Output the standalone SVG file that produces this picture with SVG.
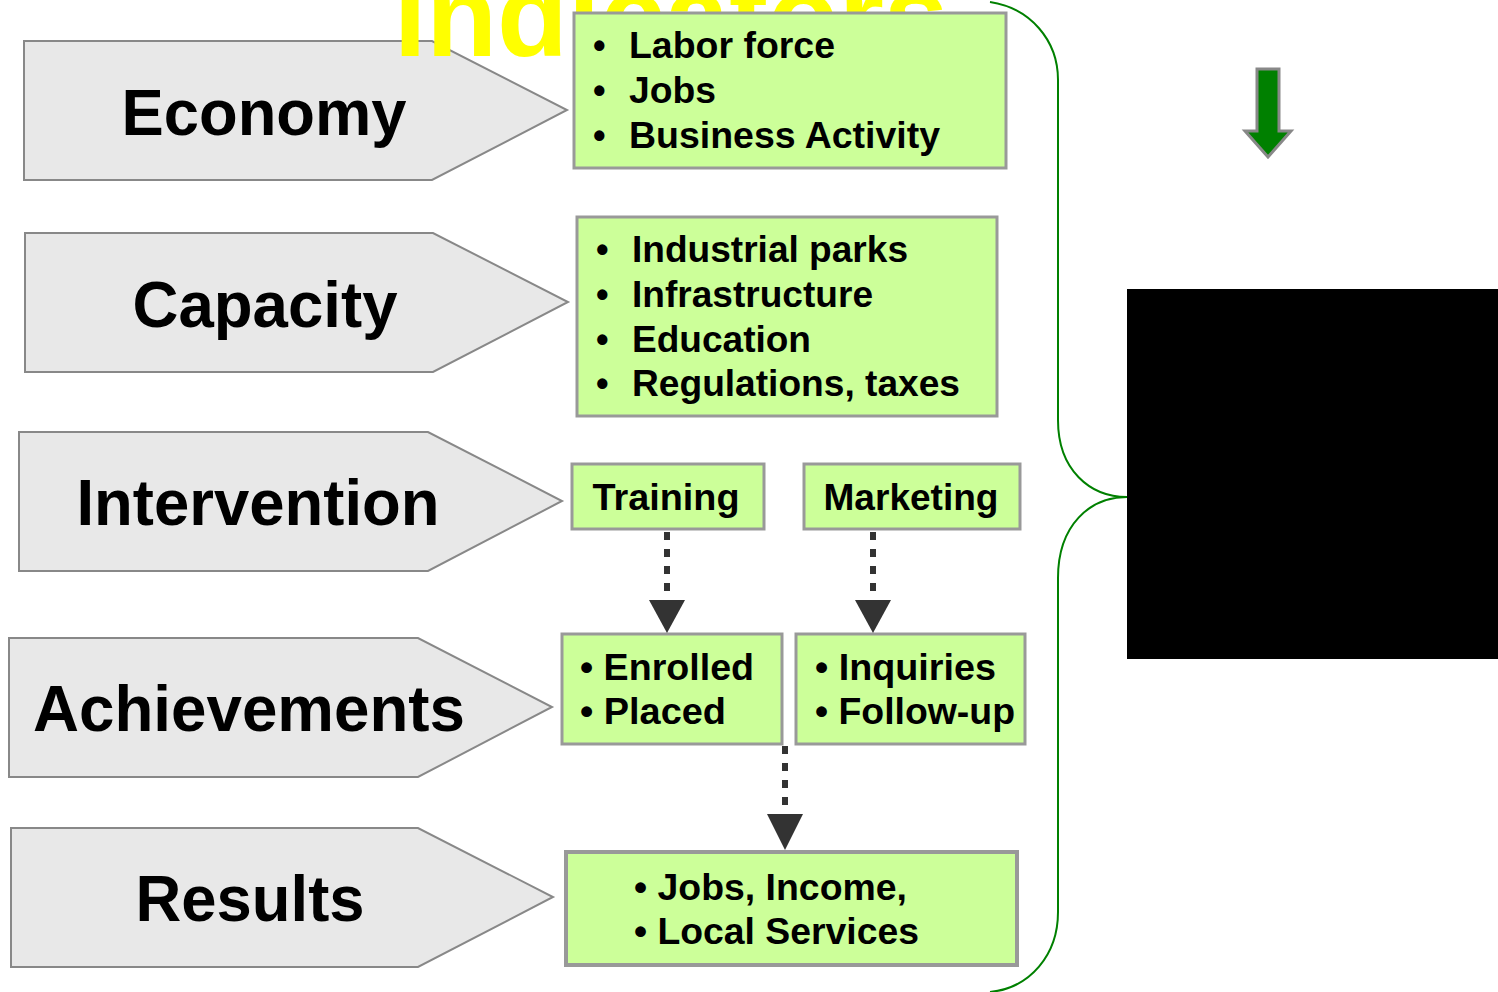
<svg xmlns="http://www.w3.org/2000/svg" width="1498" height="992" viewBox="0 0 1498 992">
<style>
text{font-family:"Liberation Sans",Arial,sans-serif;font-weight:bold;fill:#000}
.lbl{font-size:64px;text-anchor:middle}
.item{font-size:36px}
.pent{fill:#e8e8e8;stroke:#888;stroke-width:2}
.box{fill:#ccff99;stroke:#999;stroke-width:3}
.dash{stroke:#333;stroke-width:6;stroke-dasharray:8 9;fill:none}
.head{fill:#333}
</style>
<rect width="1498" height="992" fill="#fff"/>
<g id="economy"><polygon class="pent" points="24,41 432,41 567,110 432,180 24,180"/><text class="lbl" x="264" y="135" textLength="285" lengthAdjust="spacingAndGlyphs">Economy</text></g>
<g id="capacity"><polygon class="pent" points="25,233 433,233 568,302 433,372 25,372"/><text class="lbl" x="265" y="327" textLength="265" lengthAdjust="spacingAndGlyphs">Capacity</text></g>
<g id="intervention"><polygon class="pent" points="19,432 428,432 562,501 428,571 19,571"/><text class="lbl" x="258" y="525" textLength="363" lengthAdjust="spacingAndGlyphs">Intervention</text></g>
<g id="achievements"><polygon class="pent" points="9,638 418,638 552,707 418,777 9,777"/><text class="lbl" x="249" y="731" textLength="432" lengthAdjust="spacingAndGlyphs">Achievements</text></g>
<g id="results"><polygon class="pent" points="11,828 418,828 553,897 418,967 11,967"/><text class="lbl" x="250" y="921" textLength="229" lengthAdjust="spacingAndGlyphs">Results</text></g>
<text id="title" x="394" y="56" style="font-size:116px;fill:#ffff00">Indicators</text>
<g id="economy-indicators"><rect class="box" x="574" y="13" width="432" height="155"/>
<text class="item" x="593" y="58">•</text><text class="item" x="629" y="58" textLength="206" lengthAdjust="spacingAndGlyphs">Labor force</text>
<text class="item" x="593" y="103">•</text><text class="item" x="629" y="103" textLength="87" lengthAdjust="spacingAndGlyphs">Jobs</text>
<text class="item" x="593" y="148">•</text><text class="item" x="629" y="148" textLength="311" lengthAdjust="spacingAndGlyphs">Business Activity</text></g>
<g id="capacity-indicators"><rect class="box" x="577" y="217" width="420" height="199"/>
<text class="item" x="596" y="262">•</text><text class="item" x="632" y="262" textLength="276" lengthAdjust="spacingAndGlyphs">Industrial parks</text>
<text class="item" x="596" y="307">•</text><text class="item" x="632" y="307" textLength="241" lengthAdjust="spacingAndGlyphs">Infrastructure</text>
<text class="item" x="596" y="352">•</text><text class="item" x="632" y="352" textLength="179" lengthAdjust="spacingAndGlyphs">Education</text>
<text class="item" x="596" y="396">•</text><text class="item" x="632" y="396" textLength="328" lengthAdjust="spacingAndGlyphs">Regulations, taxes</text></g>
<g id="training"><rect class="box" x="572" y="464" width="192" height="65"/><text class="item" x="666" y="510" text-anchor="middle" textLength="147" lengthAdjust="spacingAndGlyphs">Training</text></g>
<g id="marketing"><rect class="box" x="804" y="464" width="216" height="65"/><text class="item" x="911" y="510" text-anchor="middle" textLength="175" lengthAdjust="spacingAndGlyphs">Marketing</text></g>
<g id="training-results"><rect class="box" x="562" y="634" width="220" height="110"/>
<text class="item" x="580" y="680" textLength="174" lengthAdjust="spacingAndGlyphs">• Enrolled</text><text class="item" x="580" y="724" textLength="146" lengthAdjust="spacingAndGlyphs">• Placed</text></g>
<g id="marketing-results"><rect class="box" x="796" y="634" width="229" height="110"/>
<text class="item" x="815" y="680" textLength="181" lengthAdjust="spacingAndGlyphs">• Inquiries</text><text class="item" x="815" y="724" textLength="200" lengthAdjust="spacingAndGlyphs">• Follow-up</text></g>
<g id="final-results"><rect class="box" x="566" y="852" width="451" height="113" style="stroke-width:4"/>
<text class="item" x="634" y="900" textLength="273" lengthAdjust="spacingAndGlyphs">• Jobs, Income,</text><text class="item" x="634" y="944" textLength="285" lengthAdjust="spacingAndGlyphs">• Local Services</text></g>
<g id="connectors">
<line class="dash" x1="667" y1="532" x2="667" y2="602"/><polygon class="head" points="649,600 685,600 667,633"/>
<line class="dash" x1="873" y1="532" x2="873" y2="602"/><polygon class="head" points="855,600 891,600 873,633"/>
<line class="dash" x1="785" y1="746" x2="785" y2="816"/><polygon class="head" points="767,814 803,814 785,850"/>
<path d="M990 2 C1030 8 1058 40 1058 80 L1058 420 C1058 470 1090 497 1127 497 C1090 497 1058 525 1058 578 L1058 912 C1058 955 1030 988 990 992" fill="none" stroke="#008000" stroke-width="2"/>
</g>
<g id="down-arrow"><polygon points="1257,69 1279,69 1279,131 1291,131 1268,157 1245,131 1257,131" fill="#008000" stroke="#888" stroke-width="3"/></g>
<g id="black-panel"><rect x="1127" y="289" width="371" height="370" fill="#000"/></g>
</svg>
